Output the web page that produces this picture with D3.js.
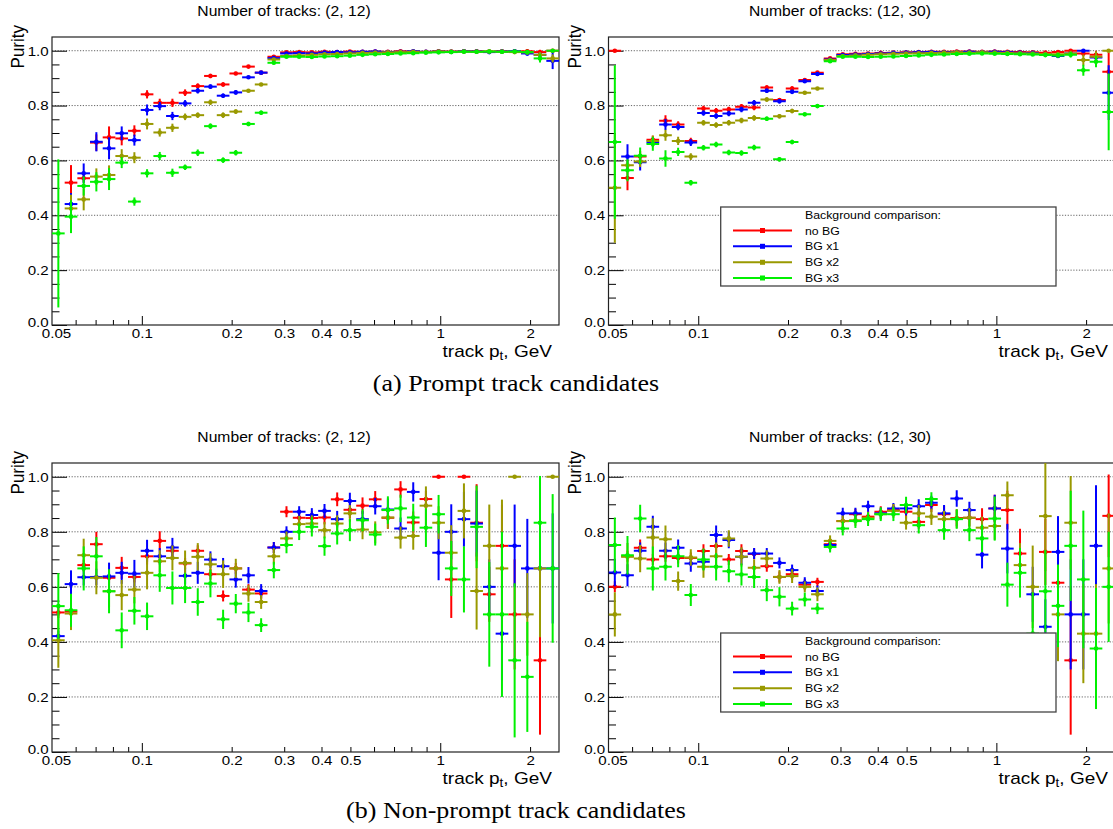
<!DOCTYPE html>
<html>
<head>
<meta charset="utf-8">
<script src="https://cdn.jsdelivr.net/npm/d3@7"></script>
<style>
html,body{margin:0;padding:0;background:#fff;}
svg{display:block;}
text{font-family:"Liberation Sans",Arial,Helvetica,sans-serif;fill:#000;}
</style>
</head>
<body>
<svg id="chart" width="1113" height="829"></svg>
<script>
// ---------------- data ----------------
const seriesNames = ["no BG", "BG x1", "BG x2", "BG x3"];
const seriesColors = ["#ff0000", "#0000ff", "#999900", "#00f000"];
const legendHeader = "Background comparison:";
const panelTitles = ["Number of tracks: (2, 12)", "Number of tracks: (12, 30)",
                     "Number of tracks: (2, 12)", "Number of tracks: (12, 30)"];
const captions = ["(a) Prompt track candidates", "(b) Non-prompt track candidates"];
const xTickValues = [0.05, 0.1, 0.2, 0.3, 0.4, 0.5, 1, 2];
const xTickLabels = ["0.05", "0.1", "0.2", "0.3", "0.4", "0.5", "1", "2"];
const yTickValues = [0, 0.2, 0.4, 0.6, 0.8, 1.0];
const yTickLabels = ["0.0", "0.2", "0.4", "0.6", "0.8", "1.0"];
const ptMin = 0.05, ptMax = 2.5, nBins = 40;

// Prompt, tracks (2,12)
const A_noBG = [null,0.519,0.535,0.665,0.684,0.680,0.708,0.841,0.810,0.810,
 0.847,0.871,0.908,0.877,0.917,0.942,0.920,0.978,0.994,0.995,
 0.994,0.996,0.995,0.997,0.996,0.997,0.996,0.998,0.997,0.996,
 0.998,0.997,0.998,0.998,0.997,0.998,0.997,0.998,0.995,1.0];
const A_noBG_err = [null,0.064,0.015,0.03,0.04,0.025,0.02,0.015,0.015,0.015,
 0.012,0.01,0.008,0.008,0.006,0.006,0.005,0.005,0.004,0.004,
 0.004,0.003,0.003,0.003,0.003,0.003,0.003,0.003,0.003,0.003,
 0.003,0.004,0.004,0.004,0.005,0.005,0.006,0.007,0.008,0.0];
const A_bg1 = [null,0.441,0.553,0.668,0.644,0.699,0.674,0.784,0.798,0.762,
 0.808,0.854,0.869,0.836,0.848,0.903,0.920,0.973,0.990,0.991,
 0.990,0.993,0.995,0.994,0.996,0.997,0.995,0.996,0.998,0.996,
 0.997,0.996,0.998,0.997,0.995,0.997,0.998,0.990,0.985,0.963];
const A_bg1_err = [null,0.04,0.036,0.035,0.04,0.025,0.02,0.02,0.015,0.015,
 0.012,0.01,0.008,0.008,0.008,0.006,0.005,0.005,0.004,0.004,
 0.004,0.003,0.003,0.003,0.003,0.003,0.003,0.003,0.003,0.003,
 0.003,0.004,0.004,0.004,0.005,0.005,0.006,0.008,0.01,0.03];
const A_bg2 = [null,0.425,0.458,0.541,0.547,0.616,0.610,0.733,0.702,0.719,
 0.759,0.765,0.812,0.765,0.778,0.854,0.877,0.968,0.981,0.983,
 0.985,0.987,0.988,0.990,0.992,0.993,0.994,0.995,0.996,0.995,
 0.997,0.996,0.997,0.996,0.997,0.996,0.995,0.994,0.985,0.972];
const A_bg2_err = [null,0.05,0.04,0.03,0.035,0.025,0.02,0.02,0.015,0.015,
 0.012,0.01,0.01,0.01,0.008,0.006,0.006,0.005,0.005,0.004,
 0.004,0.004,0.004,0.003,0.003,0.003,0.003,0.003,0.003,0.003,
 0.003,0.004,0.004,0.004,0.005,0.005,0.006,0.008,0.01,0.015];
const A_bg3 = [0.334,0.395,0.507,0.522,0.532,0.592,0.450,0.553,0.616,0.555,
 0.575,0.628,0.725,0.601,0.628,0.733,0.774,0.956,0.978,0.978,
 0.977,0.979,0.980,0.982,0.985,0.987,0.988,0.990,0.991,0.993,
 0.994,0.995,0.996,0.996,0.997,0.996,0.997,0.995,0.972,1.0];
const A_bg3_err = [0.27,0.06,0.035,0.035,0.04,0.02,0.015,0.015,0.015,0.015,
 0.01,0.012,0.01,0.01,0.01,0.008,0.008,0.006,0.005,0.005,
 0.005,0.004,0.004,0.004,0.004,0.003,0.003,0.003,0.003,0.003,
 0.003,0.004,0.004,0.004,0.005,0.005,0.006,0.008,0.015,0.0];

// Prompt, tracks (12,30)
const B_noBG = [1.0,0.536,0.614,0.675,0.745,0.731,0.671,0.789,0.781,0.786,
 0.796,0.793,0.866,0.820,0.862,0.893,0.920,0.972,0.987,0.989,
 0.990,0.992,0.993,0.994,0.995,0.996,0.996,0.997,0.997,0.996,
 0.997,0.996,0.995,0.994,0.993,0.995,1.0,0.990,0.985,0.923];
const B_noBG_err = [0,0.045,0.02,0.015,0.02,0.012,0.012,0.01,0.01,0.01,
 0.01,0.01,0.008,0.008,0.008,0.006,0.006,0.005,0.004,0.004,
 0.004,0.003,0.003,0.003,0.003,0.003,0.003,0.003,0.003,0.003,
 0.004,0.004,0.004,0.005,0.005,0.006,0.0,0.01,0.015,0.07];
const B_bg1 = [null,0.614,0.593,0.665,0.731,0.722,0.665,0.773,0.762,0.771,
 0.786,0.810,0.854,0.816,0.850,0.889,0.915,0.968,0.984,0.986,
 0.988,0.990,0.992,0.993,0.994,0.995,0.994,0.995,0.996,0.995,
 0.996,0.994,0.993,0.992,0.988,0.981,0.990,1.0,0.975,0.847];
const B_bg1_err = [null,0.045,0.03,0.015,0.02,0.012,0.012,0.01,0.01,0.01,
 0.01,0.01,0.008,0.008,0.008,0.006,0.006,0.005,0.004,0.004,
 0.004,0.003,0.003,0.003,0.003,0.003,0.003,0.003,0.003,0.003,
 0.004,0.004,0.004,0.005,0.006,0.008,0.008,0.0,0.02,0.1];
const B_bg2 = [0.50,0.582,0.596,0.671,0.692,0.671,0.614,0.737,0.729,0.737,
 0.746,0.755,0.822,0.761,0.780,0.847,0.862,0.966,0.981,0.983,
 0.985,0.987,0.989,0.990,0.991,0.992,0.993,0.994,0.993,0.994,
 0.993,0.992,0.991,0.990,0.988,0.987,0.990,0.966,0.978,1.0];
const B_bg2_err = [0.2,0.02,0.02,0.02,0.02,0.015,0.012,0.01,0.01,0.01,
 0.01,0.01,0.008,0.008,0.008,0.006,0.006,0.005,0.004,0.004,
 0.004,0.004,0.003,0.003,0.003,0.003,0.003,0.003,0.003,0.003,
 0.004,0.004,0.004,0.005,0.006,0.008,0.01,0.02,0.02,0.0];
const B_bg3 = [0.667,0.564,0.617,0.660,0.607,0.631,0.519,0.646,0.658,0.629,
 0.627,0.647,0.752,0.604,0.667,0.768,0.798,0.962,0.978,0.978,
 0.977,0.978,0.979,0.981,0.983,0.985,0.986,0.988,0.989,0.990,
 0.989,0.988,0.987,0.986,0.984,0.983,0.985,0.929,0.960,0.777];
const B_bg3_err = [0.28,0.04,0.03,0.025,0.03,0.015,0.01,0.01,0.01,0.01,
 0.01,0.01,0.008,0.008,0.008,0.006,0.006,0.005,0.005,0.005,
 0.004,0.004,0.004,0.004,0.003,0.003,0.003,0.003,0.003,0.003,
 0.004,0.004,0.004,0.005,0.006,0.008,0.01,0.02,0.02,0.14];

// Non-prompt, tracks (2,12)
const C_noBG = [0.507,0.51,0.679,0.755,0.633,0.669,0.636,0.711,0.767,0.731,
 0.685,0.731,0.646,0.567,0.667,0.590,0.576,0.743,0.873,0.851,
 0.85,0.852,0.918,0.88,0.895,0.918,0.851,0.954,0.834,0.919,
 1.0,0.627,1.0,0.833,0.573,0.749,0.5,null,0.333,null];
const C_noBG_err = [0.02,0.05,0.02,0.045,0.02,0.04,0.02,0.03,0.035,0.02,
 0.02,0.02,0.02,0.02,0.02,0.02,0.02,0.02,0.02,0.02,
 0.025,0.025,0.025,0.03,0.03,0.03,0.04,0.03,0.04,0.03,
 0,0.14,0,0.14,0.1,0.15,0.2,null,0.27,null];
const C_bg1 = [0.421,0.61,0.635,0.636,0.638,0.651,0.648,0.731,0.711,0.743,
 0.64,0.651,0.699,0.675,0.627,0.642,0.585,0.743,0.8,0.873,
 0.861,0.876,0.846,0.912,0.846,0.893,0.881,0.812,0.945,null,
 0.724,0.8,0.846,0.83,0.6,0.43,0.749,0.667,0.667,0.667];
const C_bg1_err = [0.02,0.05,0.03,0.03,0.05,0.04,0.05,0.04,0.03,0.035,
 0.03,0.04,0.03,0.03,0.03,0.03,0.025,0.02,0.02,0.02,
 0.025,0.025,0.03,0.03,0.03,0.03,0.04,0.04,0.035,null,
 0.1,0.1,0.1,0.12,0.1,0.17,0.15,0.18,0.2,0.2];
const C_bg2 = [0.406,0.503,0.715,0.633,0.584,0.57,0.59,0.651,0.693,0.705,
 0.687,0.709,0.682,0.646,0.667,0.576,0.545,0.711,0.776,0.828,
 0.83,0.806,0.83,0.867,0.808,0.798,0.852,0.779,0.785,0.895,
 0.833,0.724,0.876,0.585,0.749,0.667,1.0,0.5,0.667,1.0];
const C_bg2_err = [0.1,0.06,0.06,0.06,0.06,0.055,0.05,0.06,0.04,0.045,
 0.045,0.05,0.04,0.05,0.035,0.03,0.025,0.03,0.025,0.03,
 0.03,0.03,0.03,0.03,0.035,0.04,0.04,0.04,0.05,0.07,
 0.06,0.1,0.1,0.14,0.15,0.25,0,0.15,0.25,0];
const C_bg3 = [0.53,0.515,0.667,0.711,0.584,0.442,0.513,0.493,0.642,0.596,
 0.596,0.545,0.612,0.482,0.539,0.507,0.461,0.661,0.752,0.8,
 0.818,0.748,0.794,0.806,0.842,0.79,0.879,0.885,0.852,0.815,
 0.864,0.667,0.627,0.818,0.5,0.5,0.333,0.273,0.833,0.667];
const C_bg3_err = [0.12,0.06,0.08,0.07,0.08,0.065,0.05,0.05,0.06,0.06,
 0.055,0.05,0.05,0.035,0.035,0.035,0.025,0.03,0.03,0.03,
 0.035,0.035,0.04,0.04,0.04,0.04,0.05,0.05,0.05,0.07,
 0.07,0.1,0.12,0.15,0.19,0.3,0.28,0.2,0.17,0.27];

// Non-prompt, tracks (12,30)
const D_noBG = [0.6,0.711,0.742,0.699,0.711,0.705,0.705,0.73,0.748,0.699,
 0.73,0.719,0.675,0.636,0.646,0.608,0.618,0.755,0.839,0.864,
 0.855,0.873,0.879,0.873,0.836,0.897,0.864,0.85,0.851,0.846,
 0.885,0.879,0.721,null,0.727,0.615,0.333,null,null,0.858];
const D_noBG_err = [0.02,0.02,0.03,0.02,0.02,0.02,0.02,0.025,0.03,0.02,
 0.025,0.02,0.02,0.02,0.02,0.02,0.015,0.015,0.02,0.02,
 0.02,0.02,0.02,0.025,0.025,0.025,0.03,0.03,0.03,0.04,
 0.05,0.07,0.09,null,0.12,0.12,0.27,null,null,0.15];
const D_bg1 = [0.652,0.642,0.731,0.818,0.731,0.742,0.685,0.691,0.788,0.77,
 0.709,0.721,0.721,0.687,0.661,0.615,0.585,0.752,0.867,0.867,
 0.893,0.867,0.885,0.885,0.893,0.906,0.867,0.921,0.879,0.717,
 0.885,0.739,null,0.573,0.455,0.727,0.5,0.5,0.749,null];
const D_bg1_err = [0.05,0.04,0.03,0.04,0.03,0.03,0.03,0.03,0.035,0.03,
 0.03,0.02,0.02,0.02,0.02,0.02,0.02,0.02,0.02,0.02,
 0.02,0.02,0.02,0.025,0.025,0.025,0.03,0.03,0.03,0.05,
 0.05,0.09,null,0.1,0.1,0.13,0.2,0.2,0.22,null];
const D_bg2 = [0.5,0.709,0.703,0.779,0.773,0.621,0.707,0.673,0.711,0.776,
 0.709,0.669,0.703,0.636,0.639,0.6,0.573,0.767,0.839,0.842,
 0.851,0.864,0.876,0.833,0.867,0.855,0.846,0.848,0.851,0.815,
 0.821,0.933,0.679,0.6,0.857,0.5,0.833,0.43,0.43,0.667];
const D_bg2_err = [0.08,0.05,0.05,0.07,0.05,0.035,0.03,0.04,0.05,0.03,
 0.035,0.03,0.03,0.025,0.025,0.02,0.025,0.02,0.02,0.02,
 0.02,0.02,0.025,0.025,0.03,0.03,0.03,0.035,0.035,0.04,
 0.05,0.05,0.08,0.15,0.2,0.17,0.17,0.18,0.18,0.2];
const D_bg3 = [0.752,0.715,0.848,0.667,0.673,0.711,0.57,0.699,0.673,0.657,
 0.645,0.636,0.588,0.564,0.521,0.554,0.521,0.745,0.812,0.839,
 0.846,0.864,0.864,0.897,0.824,0.919,0.806,0.846,0.806,0.776,
 0.848,0.608,0.651,0.43,0.584,0.531,0.749,0.627,0.376,0.6];
const D_bg3_err = [0.1,0.07,0.05,0.08,0.05,0.04,0.04,0.04,0.05,0.04,
 0.04,0.04,0.04,0.035,0.025,0.025,0.02,0.02,0.025,0.025,
 0.025,0.025,0.025,0.03,0.03,0.025,0.035,0.035,0.04,0.05,
 0.08,0.08,0.09,0.15,0.15,0.15,0.2,0.25,0.22,0.2];

// ---------------- layout ----------------
const SX = 1.12;
const svg = d3.select("#chart");
const binEdges = d3.range(nBins + 1).map(i => ptMin * Math.pow(ptMax / ptMin, i / nBins));

const panels = [
  {x0: 52, x1: 559, y0: 37, y1: 325, titleX: 284, legend: false,
   vals: [A_noBG, A_bg1, A_bg2, A_bg3], errs: [A_noBG_err, A_bg1_err, A_bg2_err, A_bg3_err]},
  {x0: 608.5, x1: 1115, y0: 37, y1: 325, titleX: 840, legend: true,
   vals: [B_noBG, B_bg1, B_bg2, B_bg3], errs: [B_noBG_err, B_bg1_err, B_bg2_err, B_bg3_err]},
  {x0: 52, x1: 559, y0: 463, y1: 752, titleX: 284, legend: false,
   vals: [C_noBG, C_bg1, C_bg2, C_bg3], errs: [C_noBG_err, C_bg1_err, C_bg2_err, C_bg3_err]},
  {x0: 608.5, x1: 1115, y0: 463, y1: 752, titleX: 840, legend: true,
   vals: [D_noBG, D_bg1, D_bg2, D_bg3], errs: [D_noBG_err, D_bg1_err, D_bg2_err, D_bg3_err]}
];

function stretchedText(g, x, y, str, size, anchor, family, sx) {
  const t = g.append("text")
    .attr("transform", `translate(${x},${y}) scale(${sx || SX},1)`)
    .attr("text-anchor", anchor)
    .style("font-size", size + "px");
  if (family) t.style("font-family", family);
  t.text(str);
  return t;
}

panels.forEach((p, pi) => {
  const g = svg.append("g");
  const x = d3.scaleLog().domain([ptMin, ptMax]).range([p.x0, p.x1]);
  const y = d3.scaleLinear().domain([0, 1.05]).range([p.y1, p.y0]);

  // grid
  g.append("g").selectAll("line").data(yTickValues.filter(v => v > 0)).join("line")
    .attr("x1", p.x0).attr("x2", p.x1)
    .attr("y1", d => y(d)).attr("y2", d => y(d))
    .attr("stroke", "#555").attr("stroke-width", 0.9)
    .attr("stroke-dasharray", "1.2,1.6");

  // y axis
  const yMinor = d3.range(1, 21).map(i => i * 0.05).filter(v => Math.abs(v * 5 - Math.round(v * 5)) > 1e-6);
  const yAxMinor = g.append("g").attr("transform", `translate(${p.x0},0)`)
    .call(d3.axisLeft(y).tickValues(yMinor).tickSize(-7.5).tickFormat(""));
  const yAxMajor = g.append("g").attr("transform", `translate(${p.x0},0)`)
    .call(d3.axisLeft(y).tickValues(yTickValues).tickSize(-15).tickPadding(3)
      .tickFormat((d, i) => yTickLabels[i]));
  // x axis
  const xShort = [0.06, 0.07, 0.08, 0.09, 0.2, 0.3, 0.4, 0.5, 0.6, 0.7, 0.8, 0.9, 2];
  const xAxShort = g.append("g").attr("transform", `translate(0,${p.y1})`)
    .call(d3.axisBottom(x).tickValues(xShort).tickSize(-5).tickFormat(""));
  const xAxLong = g.append("g").attr("transform", `translate(0,${p.y1})`)
    .call(d3.axisBottom(x).tickValues([0.1, 1]).tickSize(-9).tickFormat(""));
  const xAxLab = g.append("g").attr("transform", `translate(0,${p.y1})`)
    .call(d3.axisBottom(x).tickValues(xTickValues).tickSize(0).tickPadding(3.5)
      .tickFormat((d, i) => xTickLabels[i]));
  [yAxMinor, yAxMajor, xAxShort, xAxLong, xAxLab].forEach(a => {
    a.select(".domain").remove();
    a.selectAll("line").attr("stroke", "#000").attr("stroke-width", 1);
    a.selectAll("text").attr("font-family", null).style("font-size", "13.5px")
      .attr("fill", "#000").attr("transform", `scale(${SX},1)`);
  });
  // ROOT nudges the corner labels apart
  yAxMajor.selectAll(".tick").filter(d => d === 0).select("text")
    .attr("transform", `translate(0,-3) scale(${SX},1)`);
  xAxLab.selectAll(".tick").filter(d => d === ptMin).select("text")
    .attr("transform", `translate(4,0) scale(${SX},1)`);

  // frame
  g.append("rect").attr("x", p.x0).attr("y", p.y0)
    .attr("width", p.x1 - p.x0).attr("height", p.y1 - p.y0)
    .attr("fill", "none").attr("stroke", "#222").attr("stroke-width", 1.2);

  // data
  const clipId = "clip" + pi;
  svg.append("clipPath").attr("id", clipId).append("rect")
    .attr("x", p.x0).attr("y", p.y0).attr("width", p.x1 - p.x0).attr("height", p.y1 - p.y0);
  const dg = g.append("g").attr("clip-path", `url(#${clipId})`);
  p.vals.forEach((vals, si) => {
    const errs = p.errs[si];
    const pts = vals.map((v, i) => ({v, e: errs[i] || 0, i})).filter(d => d.v !== null);
    const cx = d => x(Math.sqrt(binEdges[d.i] * binEdges[d.i + 1]));
    const sg = dg.append("g").attr("stroke", seriesColors[si]).attr("fill", seriesColors[si]);
    sg.selectAll("line.h").data(pts).join("line").attr("class", "h")
      .attr("x1", d => x(binEdges[d.i])).attr("x2", d => x(binEdges[d.i + 1]))
      .attr("y1", d => y(d.v)).attr("y2", d => y(d.v)).attr("stroke-width", 2);
    sg.selectAll("line.v").data(pts.filter(d => d.e > 0)).join("line").attr("class", "v")
      .attr("x1", cx).attr("x2", cx)
      .attr("y1", d => y(Math.max(0, d.v - d.e))).attr("y2", d => y(Math.min(1.05, d.v + d.e)))
      .attr("stroke-width", 2);
    sg.selectAll("circle").data(pts).join("circle")
      .attr("cx", cx).attr("cy", d => y(d.v)).attr("r", 2.3).attr("stroke", "none");
  });

  // title
  stretchedText(g, p.titleX, p.y0 - 21, panelTitles[pi], 14, "middle");

  // y axis title
  g.append("text")
    .attr("transform", `translate(${p.x0 - 28},${p.y0 - 12}) scale(${SX},1) rotate(-90)`)
    .attr("text-anchor", "end").style("font-size", "17px").text("Purity");

  // x axis title
  const xt = g.append("text")
    .attr("transform", `translate(${p.x1 - 7},${p.y1 + 32}) scale(${SX},1)`)
    .attr("text-anchor", "end").style("font-size", "17px");
  xt.append("tspan").text("track p");
  xt.append("tspan").attr("dy", 3).style("font-size", "12px").text("t");
  xt.append("tspan").attr("dy", -3).text(", GeV");

  // legend
  if (p.legend) {
    const lx = p.x0 + 112.2, ly = p.y0 + 170, lw = 335.3, lh = 79;
    const lg = g.append("g");
    lg.append("rect").attr("x", lx).attr("y", ly).attr("width", lw).attr("height", lh)
      .attr("fill", "#fff").attr("stroke", "#444").attr("stroke-width", 1.3);
    stretchedText(lg, p.x0 + 196.5, ly + 12, legendHeader, 11, "start");
    const rows = [23.5, 39.3, 55.3, 71];
    seriesNames.forEach((name, si) => {
      const cy = ly + rows[si];
      lg.append("line").attr("x1", p.x0 + 124.5).attr("x2", p.x0 + 183.5)
        .attr("y1", cy).attr("y2", cy).attr("stroke", seriesColors[si]).attr("stroke-width", 2);
      lg.append("rect").attr("x", p.x0 + 154 - 2.5).attr("y", cy - 2.5)
        .attr("width", 5).attr("height", 5).attr("fill", seriesColors[si]);
      stretchedText(lg, p.x0 + 196.5, cy + 4, name, 11, "start");
    });
  }
});

// captions
const serif = "'Liberation Serif','Times New Roman',serif";
stretchedText(svg, 516, 391, captions[0], 23, "middle", serif, 1.13);
stretchedText(svg, 516, 818, captions[1], 23, "middle", serif, 1.13);
</script>
</body>
</html>
